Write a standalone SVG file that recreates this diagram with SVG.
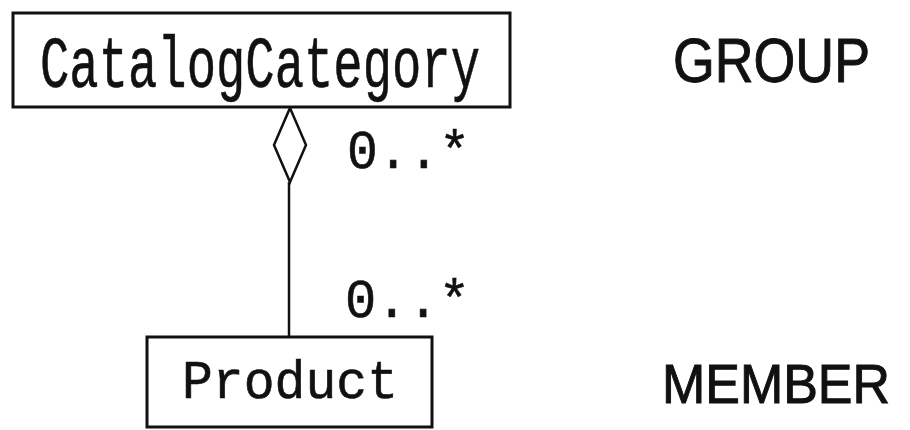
<svg xmlns="http://www.w3.org/2000/svg" width="910" height="430" viewBox="0 0 910 430">
<style>
.box{fill:#fff;stroke:#111;stroke-width:3}
.mono{font-family:"Courier New","Liberation Mono",monospace;fill:#111;stroke:#111;stroke-width:0.6}
.sans{font-family:"Liberation Sans",Arial,sans-serif;fill:#111;stroke:#111;stroke-width:1}
.conn{fill:none;stroke:#111;stroke-width:2.5}
</style>
<rect width="910" height="430" fill="#fff"/>
<g id="connectors">
<line class="conn" x1="289" y1="182" x2="289" y2="337"/>
<polygon class="conn" points="290,108 306,145 290,182 274,145" fill="#fff" stroke-width="3"/>
<text class="mono" x="347" y="168" font-size="54" textLength="123" lengthAdjust="spacingAndGlyphs">0..*</text>
<text class="mono" x="345" y="317" font-size="54" textLength="125" lengthAdjust="spacingAndGlyphs">0..*</text>
</g>
<g id="catalogCategory">
<rect class="box" x="13" y="13" width="497" height="94"/>
<text class="mono" x="40" y="87" font-size="72" textLength="440" lengthAdjust="spacingAndGlyphs">CatalogCategory</text>
</g>
<g id="product">
<rect class="box" x="147" y="337" width="285" height="90"/>
<text class="mono" x="182" y="398" font-size="54" textLength="216" lengthAdjust="spacingAndGlyphs">Product</text>
</g>
<g id="groupLabel">
<text class="sans" x="673" y="82" font-size="63" textLength="197" lengthAdjust="spacingAndGlyphs">GROUP</text>
</g>
<g id="memberLabel">
<text class="sans" x="662" y="403" font-size="56" textLength="228" lengthAdjust="spacingAndGlyphs">MEMBER</text>
</g>
</svg>
